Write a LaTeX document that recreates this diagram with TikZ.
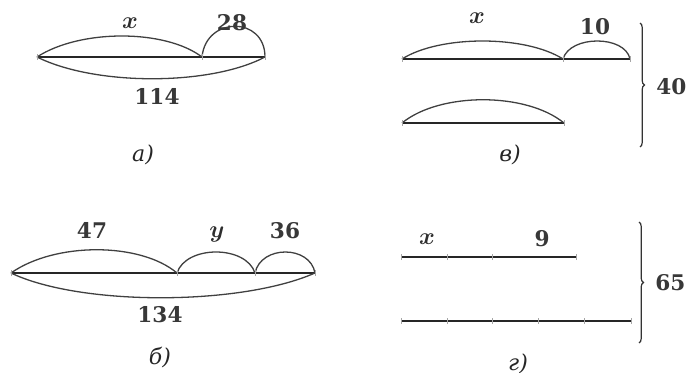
\documentclass[tikz,border=0pt]{standalone}
\usepackage{fontspec}
\setmainfont{DejaVu Serif}
\usetikzlibrary{decorations.pathreplacing}
\begin{document}
\begin{tikzpicture}[x=0.5pt,y=-0.5pt,
  seg/.style={line width=0.95pt, draw=black!85},
  arcline/.style={line width=0.65pt, draw=black!75},
  tickmark/.style={line width=0.3pt, draw=black!35},
  lbl/.style={font=\fontsize{10.8}{13}\selectfont\bfseries, inner sep=0pt, text=black!78},
  varlbl/.style={font=\fontsize{13}{15}\selectfont\boldmath, inner sep=0pt, text=black!82},
  caplbl/.style={font=\fontsize{11}{13}\selectfont\itshape, inner sep=0pt, text=black!85},
  bracestyle/.style={decorate, decoration={brace, amplitude=2.2pt}, line width=0.6pt, draw=black!80}]
\useasboundingbox (0,0) rectangle (688,373);

% ---------- panel a ----------
\coordinate (a0) at (37,57);
\coordinate (a1) at (202,57);
\coordinate (a2) at (265,57);
\draw[seg] (a0) -- (a2);
\draw[arcline] (a0) .. controls (80,29) and (165,29) .. (a1);
\draw[arcline] (a1) .. controls (206,16) and (265,16) .. (a2);
\draw[arcline] (a0) .. controls (95,86) and (210,86) .. (a2);
\foreach \p in {a0,a1,a2} \draw[tickmark] ([yshift=-1.5pt]\p) -- ([yshift=1.5pt]\p);
\node[varlbl] (ax) at (130,23) {$x$};
\node[lbl] (a28) at (232,23) {28};
\node[lbl] (a114) at (157,96) {114};
\node[caplbl] (acap) at (143,155) {а)};

% ---------- panel v ----------
\coordinate (b0) at (402,59);
\coordinate (b1) at (563,59);
\coordinate (b2) at (630,59);
\coordinate (b3) at (402,123);
\coordinate (b4) at (564,123);
\draw[seg] (b0) -- (b2);
\draw[seg] (b3) -- (b4);
\draw[arcline] (b0) .. controls (440,35) and (525,35) .. (b1);
\draw[arcline] (b1) .. controls (570,35) and (625,35) .. (b2);
\draw[arcline] (b3) .. controls (440,92) and (526,92) .. (b4);
\foreach \p in {b0,b1,b2,b3,b4} \draw[tickmark] ([yshift=-1.5pt]\p) -- ([yshift=1.5pt]\p);
\node[varlbl] (bx) at (477,18) {$x$};
\node[lbl] (b10) at (595,27) {10};
\node[caplbl] (bcap) at (510,155) {в)};
\coordinate (bt) at (640,23);
\coordinate (bb) at (640,147);
\draw[bracestyle] (bt) -- (bb);
\node[lbl, anchor=west] (b40) at (656,87) {40};

% ---------- panel b ----------
\coordinate (c0) at (11,273);
\coordinate (c1) at (177,273);
\coordinate (c2) at (255,273);
\coordinate (c3) at (315,273);
\draw[seg] (c0) -- (c3);
\draw[arcline] (c0) .. controls (55,242) and (140,242) .. (c1);
\draw[arcline] (c1) .. controls (186,245) and (246,245) .. (c2);
\draw[arcline] (c2) .. controls (261,245) and (310,245) .. (c3);
\draw[arcline] (c0) .. controls (80,306) and (240,306) .. (c3);
\foreach \p in {c0,c1,c2,c3} \draw[tickmark] ([yshift=-1.5pt]\p) -- ([yshift=1.5pt]\p);
\node[lbl] (c47) at (92,230) {47};
\node[varlbl] (cy) at (217,234) {$y$};
\node[lbl] (c36) at (285,231) {36};
\node[lbl] (c134) at (160,315) {134};
\node[caplbl] (ccap) at (160,358) {б)};

% ---------- panel g ----------
\coordinate (d0) at (401,257);
\coordinate (d1) at (447,257);
\coordinate (d2) at (492,257);
\coordinate (d3) at (576,257);
\coordinate (e0) at (401,321);
\coordinate (e1) at (447,321);
\coordinate (e2) at (492,321);
\coordinate (e3) at (538,321);
\coordinate (e4) at (584,321);
\coordinate (e5) at (631,321);
\draw[seg] (d0) -- (d3);
\draw[seg] (e0) -- (e5);
\foreach \p in {d0,d1,d2,d3,e0,e1,e2,e3,e4,e5} \draw[tickmark] ([yshift=-1.5pt]\p) -- ([yshift=1.5pt]\p);
\node[varlbl] (dx) at (427,239) {$x$};
\node[lbl] (d9) at (542,239) {9};
\node[caplbl] (dcap) at (518,364) {г)};
\coordinate (dt) at (639,222);
\coordinate (db) at (639,343);
\draw[bracestyle] (dt) -- (db);
\node[lbl, anchor=west] (d65) at (655,283) {65};
\end{tikzpicture}
\end{document}
